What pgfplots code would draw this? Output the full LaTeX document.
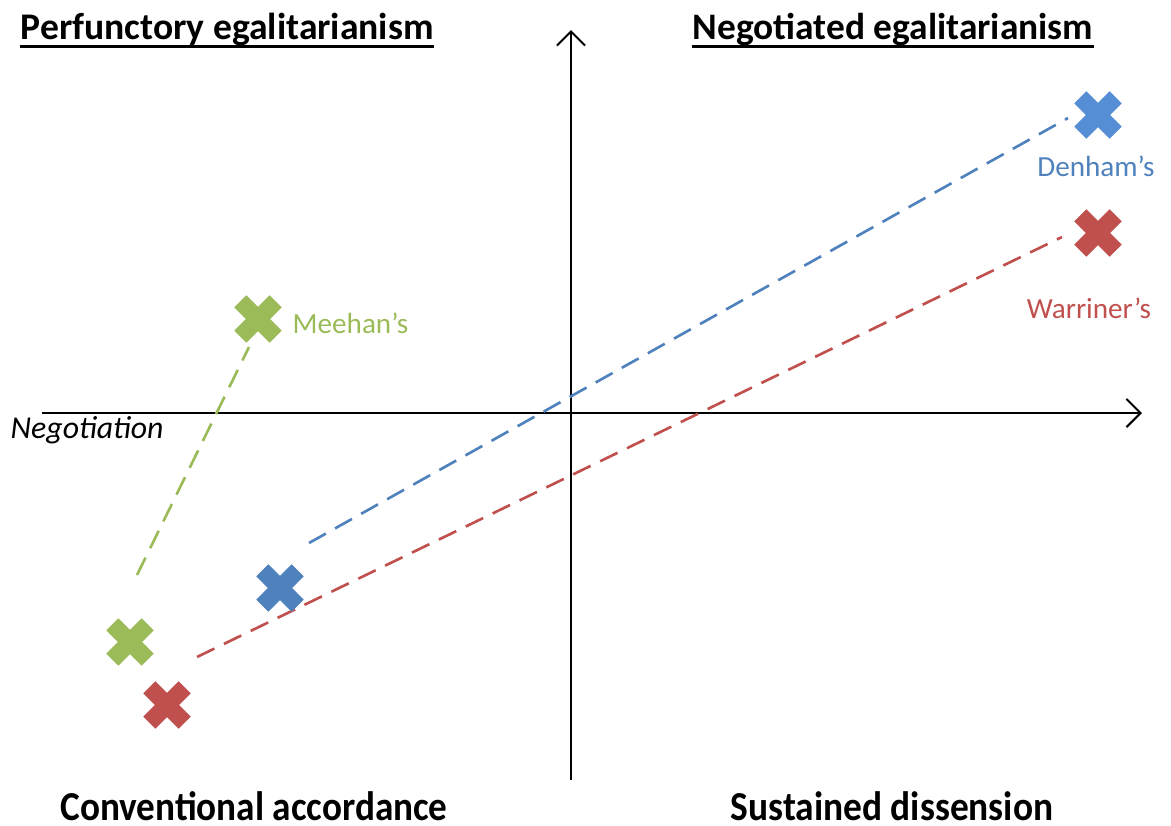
\documentclass[border=0pt]{standalone}
\usepackage{pgfplots}
\pgfplotsset{compat=1.18}
\usepackage{fontspec}
\setmainfont{Carlito}
\usetikzlibrary{arrows.meta}
\definecolor{cgreen}{HTML}{9BBB59}
\definecolor{cblue}{HTML}{4F81BD}
\definecolor{cblue2}{HTML}{558ED5}
\definecolor{cred}{HTML}{C0504D}
\begin{document}
\begin{tikzpicture}
\begin{axis}[
  scale only axis, width=333.15pt, height=234.71pt,
  xmin=0, xmax=1171, ymin=0, ymax=825, y dir=reverse,
  hide axis, clip=false,
]
\path (rel axis cs:0,0) (rel axis cs:1,1);
% axes
\addplot[black, line width=0.6pt, -{Straight Barb[length=4pt,width=8pt,line width=0.6pt]}] coordinates {(42,413) (1142,413)};
\addplot[black, line width=0.6pt, -{Straight Barb[length=4pt,width=8pt,line width=0.6pt]}] coordinates {(571,780) (571,30)};
% dashed lines
\addplot[cgreen, line width=0.75pt, dash pattern=on 5.5pt off 3pt] coordinates {(137,575) (249,347)};
\addplot[cblue, line width=0.75pt, dash pattern=on 5.5pt off 3pt] coordinates {(309,543) (1068,118)};
\addplot[cred, line width=0.75pt, dash pattern=on 5.5pt off 3pt] coordinates {(197,657) (1062,237)};
% markers
\pgfplotsset{xmk/.style={only marks, mark=+, mark size=7.1pt, mark options={rotate=45, line width=4.9pt, line cap=butt, draw=#1}}}
\addplot[xmk=cgreen] coordinates {(258,319) (130,642)};
\addplot[xmk=cblue2] coordinates {(1098,115)};
\addplot[xmk=cblue] coordinates {(280,588)};
\addplot[xmk=cred] coordinates {(1098,233) (167,705)};
% labels
\node[anchor=base west, text=cgreen, inner sep=0pt] at (axis cs:292,333) {\fontsize{8.3}{10}\selectfont Meehan’s};
\node[anchor=base, text=cblue, inner sep=0pt] at (axis cs:1096,176) {\fontsize{8.3}{10}\selectfont Denham’s};
\node[anchor=base, text=cred, inner sep=0pt] at (axis cs:1089,318) {\fontsize{8.3}{10}\selectfont Warriner’s};
\node[anchor=base west, inner sep=0pt] at (axis cs:10,438) {\fontsize{9.05}{10}\selectfont\itshape Negotiation};
% titles
\node[anchor=base west, inner sep=0pt] (t1) at (axis cs:20,39) {\fontsize{10.7}{13}\selectfont\bfseries Perfunctory egalitarianism};
\draw[line width=0.85pt] ([yshift=-2pt]t1.base west) -- ([yshift=-2pt]t1.base east);
\node[anchor=base west, inner sep=0pt] (t2) at (axis cs:692,39) {\fontsize{10.65}{13}\selectfont\bfseries Negotiated egalitarianism};
\draw[line width=0.85pt] ([yshift=-2pt]t2.base west) -- ([yshift=-2pt]t2.base east);
\node[anchor=base, inner sep=0pt, xscale=0.905] at (axis cs:254,820) {\fontsize{11.7}{13}\selectfont\bfseries Conventional accordance};
\node[anchor=base, inner sep=0pt, xscale=0.91] at (axis cs:892,820) {\fontsize{11.7}{13}\selectfont\bfseries Sustained dissension};
\end{axis}
\end{tikzpicture}
\end{document}
